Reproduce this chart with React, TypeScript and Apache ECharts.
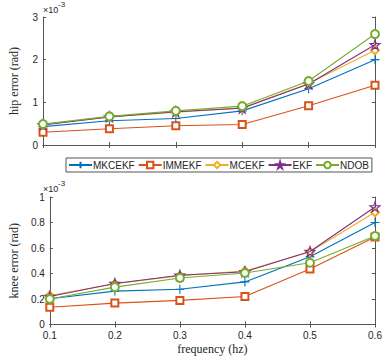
import React, { useEffect, useRef } from "react";
import * as echarts from "echarts";

const frequencies = ["0.1", "0.2", "0.3", "0.4", "0.5", "0.6"];
const seriesNames = ["MKCEKF", "IMMEKF", "MCEKF", "EKF", "NDOB"];
const colors = ["#0072BD", "#D95319", "#EDB120", "#7E2F8E", "#77AC30"];

// hip error, units of 1e-3 rad
const hipMKCEKF = [0.43, 0.57, 0.62, 0.8, 1.32, 2.0];
const hipIMMEKF = [0.3, 0.38, 0.45, 0.48, 0.92, 1.4];
const hipMCEKF = [0.48, 0.66, 0.77, 0.87, 1.44, 2.22];
const hipEKF = [0.47, 0.66, 0.78, 0.86, 1.43, 2.35];
const hipNDOB = [0.49, 0.67, 0.8, 0.91, 1.5, 2.6];

// knee error, units of 1e-3 rad
const kneeMKCEKF = [0.202, 0.262, 0.277, 0.334, 0.531, 0.8];
const kneeIMMEKF = [0.135, 0.168, 0.189, 0.22, 0.435, 0.687];
const kneeMCEKF = [0.228, 0.319, 0.383, 0.42, 0.57, 0.88];
const kneeEKF = [0.22, 0.322, 0.386, 0.414, 0.573, 0.922];
const kneeNDOB = [0.2, 0.293, 0.365, 0.404, 0.484, 0.694];

const hipData = [hipMKCEKF, hipIMMEKF, hipMCEKF, hipEKF, hipNDOB];
const kneeData = [kneeMKCEKF, kneeIMMEKF, kneeMCEKF, kneeEKF, kneeNDOB];

const PLUS = "path://M0,5L10,5M5,0L5,10";
const STAR = "path://M50,0L61,35L98,35L68,57L79,91L50,70L21,91L32,57L2,35L39,35Z";
const symbols = [PLUS, "emptyRect", "emptyDiamond", STAR, "emptyCircle"];
const symbolSizes = [9, 7, 8, 10, 8];

const AX = "#555555";
const TXT = "#262626";

export default function App() {
  const ref = useRef<HTMLDivElement>(null);
  useEffect(() => {
    if (!ref.current) return;
    const chart = echarts.init(ref.current, null, { renderer: "svg" });
    const grids = [
      { left: 41, top: 17, width: 334, height: 128 },
      { left: 41, top: 197, width: 334, height: 127.5 },
    ];
    const xAxes: any[] = [];
    const yAxes: any[] = [];
    [0, 1].forEach((g) => {
      xAxes.push({
        type: "category",
        gridIndex: g,
        data: frequencies,
        boundaryGap: false,
        position: "bottom",
        axisLine: { lineStyle: { color: AX, width: 1 } },
        axisTick: { inside: true, length: 3, lineStyle: { color: AX } },
        axisLabel: {
          show: g === 1,
          color: TXT,
          fontSize: 10,
          fontFamily: "Liberation Sans",
          margin: 6,
        },
        splitLine: { show: false },
        name: g === 1 ? "frequency (hz)" : "",
        nameLocation: "middle",
        nameGap: 18,
        nameTextStyle: { color: TXT, fontSize: 12, fontFamily: "Liberation Serif" },
      });
      xAxes.push({
        type: "category",
        gridIndex: g,
        data: frequencies,
        boundaryGap: false,
        position: "top",
        axisLine: { lineStyle: { color: AX, width: 1 } },
        axisTick: { inside: true, length: 3, lineStyle: { color: AX } },
        axisLabel: { show: false },
        splitLine: { show: false },
      });
      yAxes.push({
        type: "value",
        gridIndex: g,
        position: "left",
        min: 0,
        max: g === 0 ? 3 : 1,
        interval: g === 0 ? 1 : 0.2,
        axisLine: { show: true, lineStyle: { color: AX, width: 1 } },
        axisTick: { show: true, inside: true, length: 3, lineStyle: { color: AX } },
        axisLabel: { color: TXT, fontSize: 10, fontFamily: "Liberation Sans", margin: 5 },
        splitLine: { show: false },
        name: g === 0 ? "hip error (rad)" : "knee error (rad)",
        nameLocation: "middle",
        nameGap: 23,
        nameTextStyle: { color: TXT, fontSize: 12, fontFamily: "Liberation Serif" },
      });
      yAxes.push({
        type: "value",
        gridIndex: g,
        position: "right",
        min: 0,
        max: g === 0 ? 3 : 1,
        interval: g === 0 ? 1 : 0.2,
        axisLine: { show: true, lineStyle: { color: AX, width: 1 } },
        axisTick: { show: true, inside: true, length: 3, lineStyle: { color: AX } },
        axisLabel: { show: false },
        splitLine: { show: false },
      });
    });

    const series: any[] = [];
    [hipData, kneeData].forEach((dataset, g) => {
      dataset.forEach((vals, i) => {
        const isPath = symbols[i].startsWith("path://");
        series.push({
          type: "line",
          name: seriesNames[i],
          xAxisIndex: g * 2,
          yAxisIndex: g * 2,
          data: vals,
          symbol: symbols[i],
          symbolSize: symbolSizes[i],
          showAllSymbol: true,
          lineStyle: { color: colors[i], width: 1.1 },
          itemStyle: isPath
            ? { color: "rgba(255,255,255,0)", borderColor: colors[i], borderWidth: 1.1 }
            : { color: colors[i], borderColor: colors[i], borderWidth: 1.1 },
          emphasis: { disabled: true },
          z: 2 + i,
        });
      });
    });

    chart.setOption({
      animation: false,
      grid: grids,
      xAxis: xAxes,
      yAxis: yAxes,
      legend: {
        data: seriesNames,
        left: 66,
        top: 158,
        orient: "horizontal",
        itemWidth: 23,
        itemHeight: 8,
        itemGap: 3,
        padding: [2, 3, 2, 2],
        borderColor: AX,
        borderWidth: 1,
        backgroundColor: "#fff",
        textStyle: { color: TXT, fontSize: 10, fontFamily: "Liberation Sans", padding: [0, 0, 0, -4] },
        selectedMode: false,
      },
      graphic: [
        { type: "text", left: 43, top: 5, style: { text: "×10", fontSize: 9, fontFamily: "Liberation Sans", fill: TXT } },
        { type: "text", left: 58, top: 0, style: { text: "-3", fontSize: 8, fontFamily: "Liberation Sans", fill: TXT } },
        { type: "text", left: 43, top: 184, style: { text: "×10", fontSize: 9, fontFamily: "Liberation Sans", fill: TXT } },
        { type: "text", left: 58, top: 179, style: { text: "-3", fontSize: 8, fontFamily: "Liberation Sans", fill: TXT } },
      ],
      series,
    });
    return () => chart.dispose();
  }, []);
  return (
    <div
      ref={ref}
      style={{ position: "fixed", left: 0, top: 0, width: 389, height: 359, background: "#fff" }}
    />
  );
}
